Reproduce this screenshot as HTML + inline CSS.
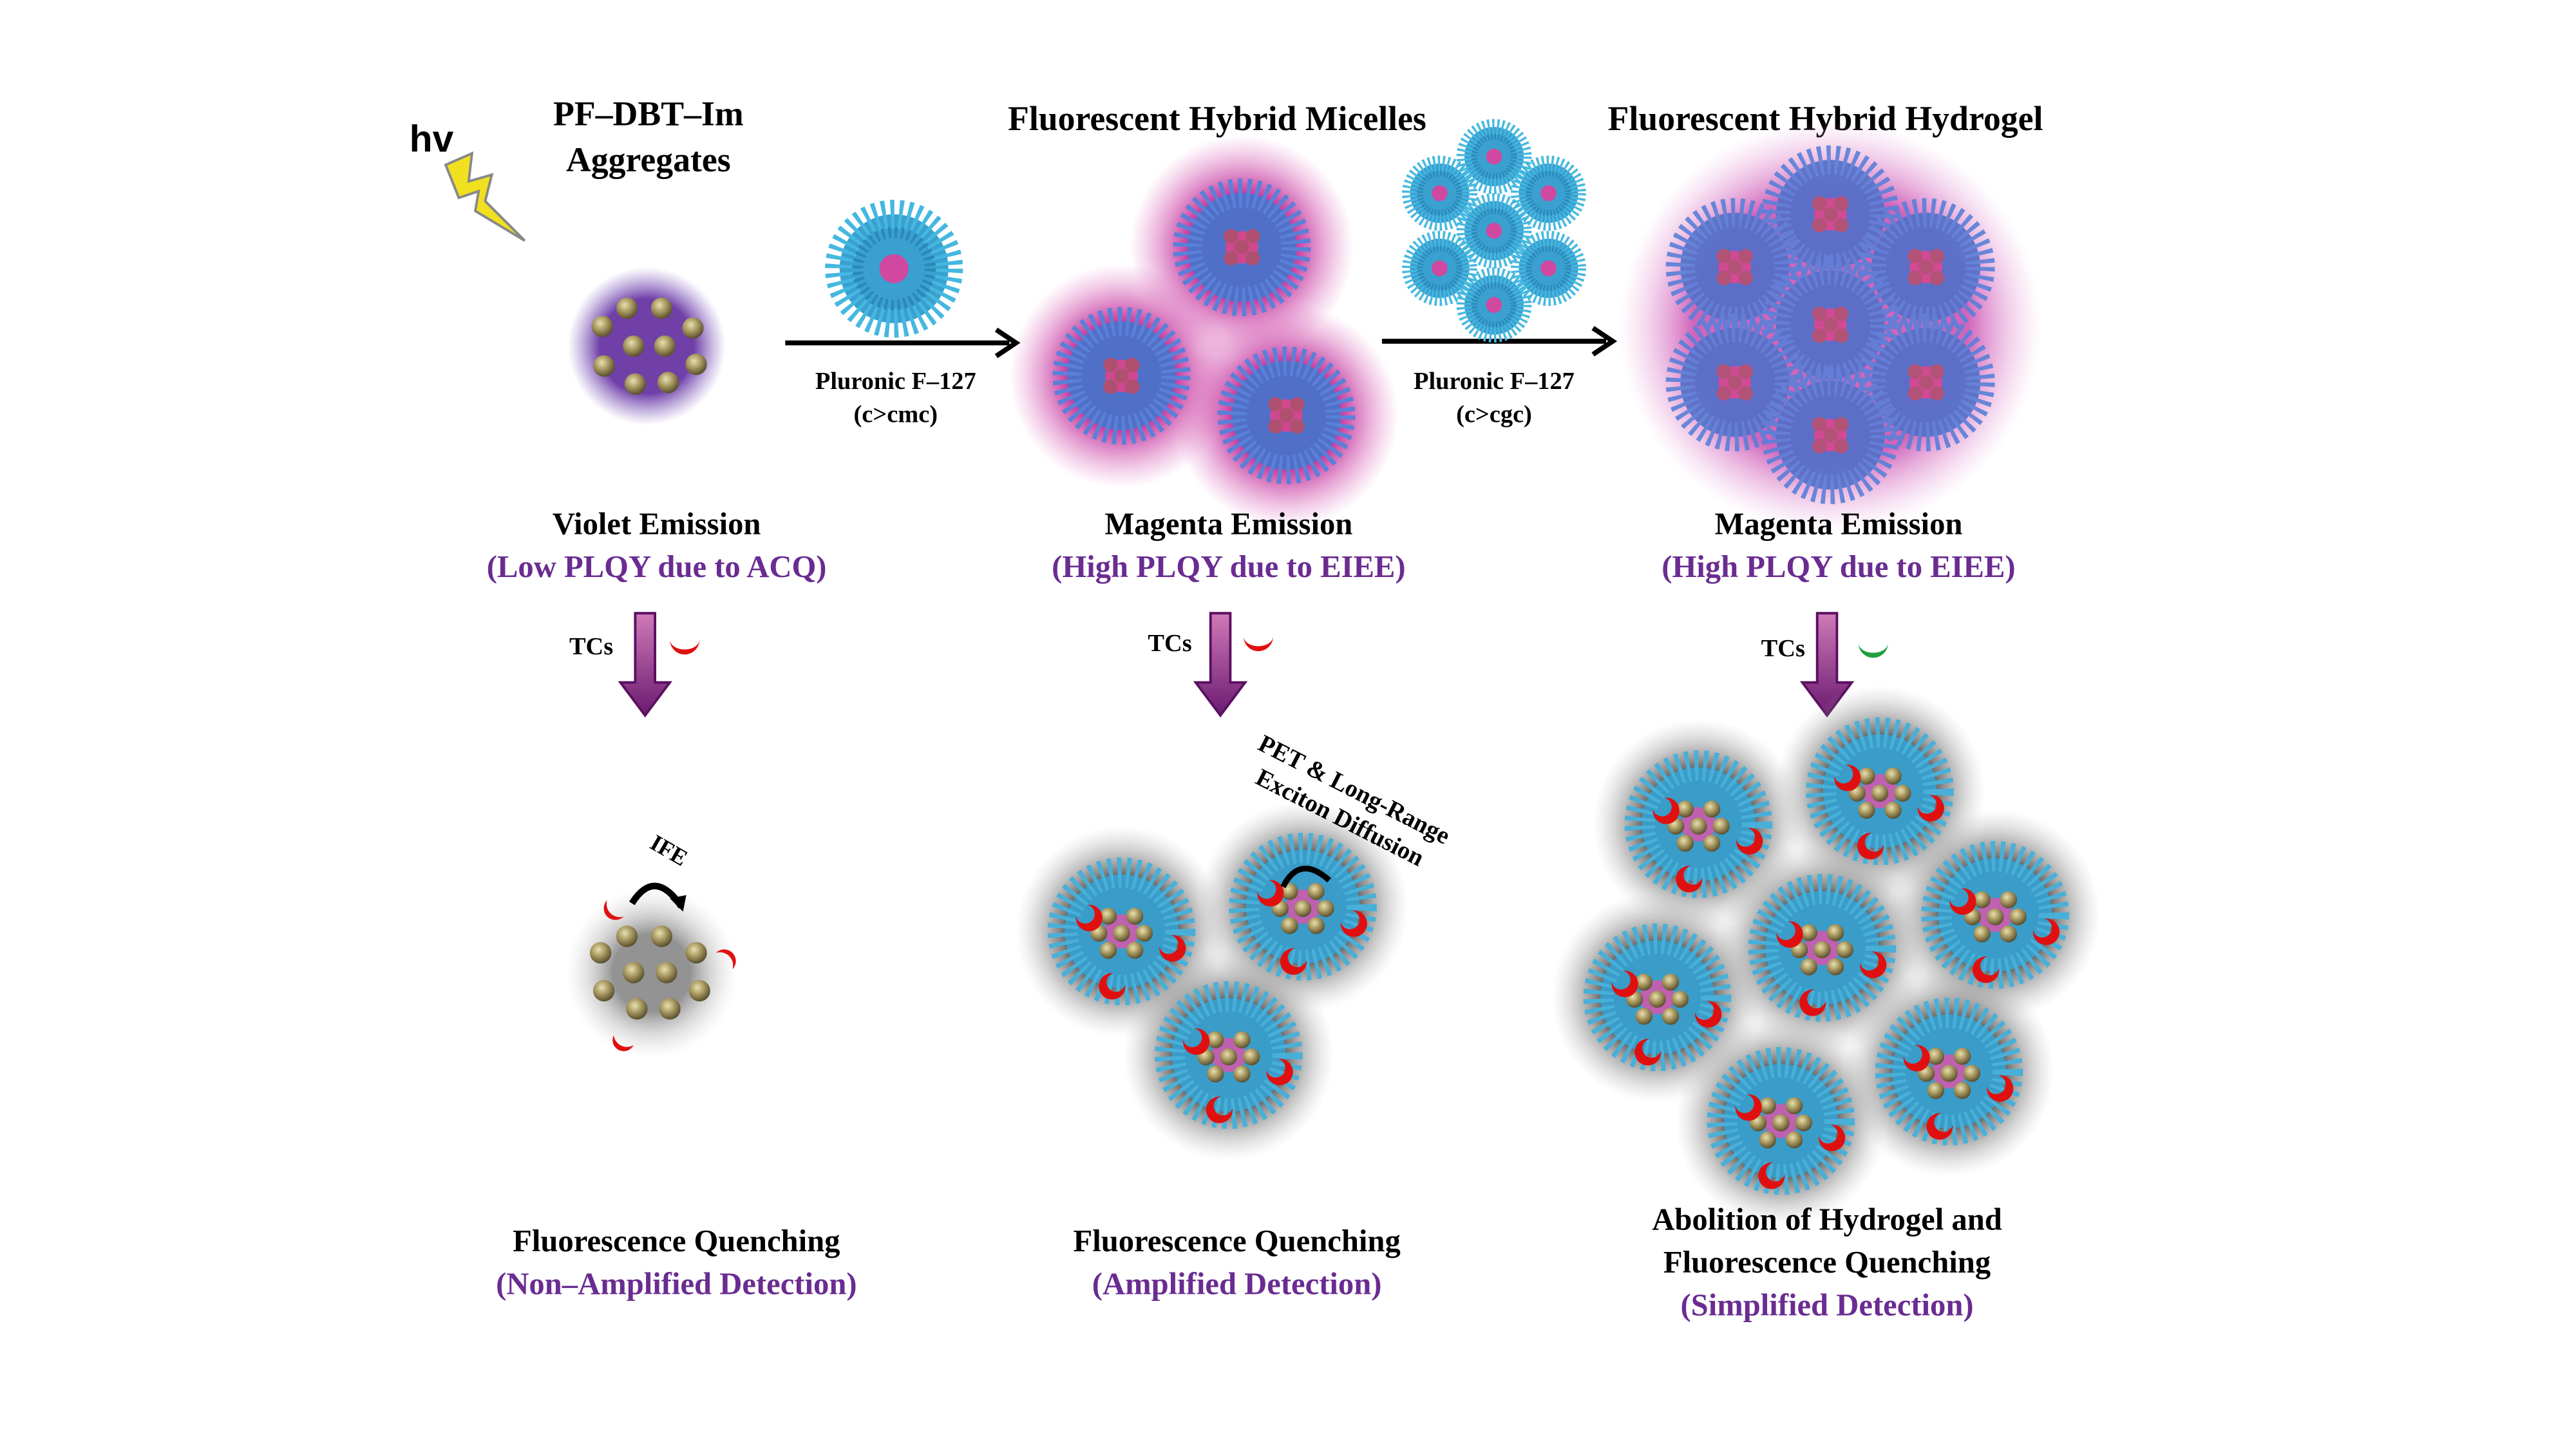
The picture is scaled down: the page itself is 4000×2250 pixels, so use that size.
<!DOCTYPE html>
<html><head><meta charset="utf-8"><style>
html,body{margin:0;padding:0;background:#fff;}
svg{display:block}
text{font-family:"Liberation Serif",serif;font-weight:bold;}
</style></head><body>
<svg width="4000" height="2250" viewBox="0 0 1562 879" xmlns="http://www.w3.org/2000/svg">
<defs>
<radialGradient id="gold" cx="40%" cy="35%" r="65%"><stop offset="0" stop-color="#e8e0b0"/><stop offset="0.5" stop-color="#a89860"/><stop offset="1" stop-color="#5a5030"/></radialGradient>
<radialGradient id="pinkGlow"><stop offset="0.5" stop-color="#c0309a" stop-opacity="0.9"/><stop offset="1" stop-color="#e070c0" stop-opacity="0"/></radialGradient>
<radialGradient id="greyGlow"><stop offset="0.45" stop-color="#303030" stop-opacity="0.95"/><stop offset="0.7" stop-color="#707070" stop-opacity="0.5"/><stop offset="1" stop-color="#b0b0b0" stop-opacity="0"/></radialGradient>
<radialGradient id="violetGlow"><stop offset="0.6" stop-color="#7040a8"/><stop offset="1" stop-color="#9070c8" stop-opacity="0"/></radialGradient>
<radialGradient id="bigPink" cx="50%" cy="50%" r="50%"><stop offset="0.65" stop-color="#c84ab0" stop-opacity="0.85"/><stop offset="1" stop-color="#e8a0d8" stop-opacity="0"/></radialGradient>
<linearGradient id="arrG" x1="0" y1="0" x2="0" y2="1"><stop offset="0" stop-color="#d07ab8"/><stop offset="1" stop-color="#6a1a70"/></linearGradient>
<g id="mic">
  <circle r="30" fill="#3aa0d0"/>
  <circle r="30" fill="none" stroke="#45b8e0" stroke-width="16" stroke-dasharray="2 2.5"/>
  <circle r="20" fill="none" stroke="#2a88b8" stroke-width="6" stroke-dasharray="1.5 2"/>
  <circle r="8" fill="#d048a0"/>
</g>
<g id="micP">
  <circle r="30" fill="#5070c8"/>
  <circle r="30" fill="none" stroke="#5a80d8" stroke-width="16" stroke-dasharray="2 2.5"/>
  <circle r="9" fill="#d04890"/>
  <circle cx="-6" cy="-6" r="4" fill="#b05070"/><circle cx="6" cy="-6" r="4" fill="#b05070"/><circle cx="0" cy="0" r="4" fill="#b05070"/><circle cx="-6" cy="6" r="4" fill="#b05070"/><circle cx="6" cy="6" r="4" fill="#b05070"/>
</g>
<g id="micG">
  <circle r="30" fill="#3a9cc8"/>
  <circle r="31" fill="none" stroke="#48b0d8" stroke-width="16" stroke-dasharray="2 2.5"/>
  <circle r="9" fill="#c060b0"/>
  <circle cx="-7" cy="-8" r="4.5" fill="url(#gold)"/><circle cx="7" cy="-8" r="4.5" fill="url(#gold)"/><circle cx="-12" cy="1" r="4.5" fill="url(#gold)"/><circle cx="0" cy="1" r="4.5" fill="url(#gold)"/><circle cx="12" cy="1" r="4.5" fill="url(#gold)"/><circle cx="-7" cy="10" r="4.5" fill="url(#gold)"/><circle cx="7" cy="10" r="4.5" fill="url(#gold)"/>
  <path d="M-24,-8 a7,7 0 1,0 6,-6 a5,5 0 1,1 -6,6z" fill="#e01010"/>
  <path d="M20,8 a7,7 0 1,0 6,-6 a5,5 0 1,1 -6,6z" fill="#e01010"/>
  <path d="M-4,22 a7,7 0 1,0 6,6 a5,5 0 1,1 -6,-6z" fill="#e01010"/>
</g>
<g id="ball"><circle r="6.5" fill="url(#gold)"/></g>
<g id="darr"><path d="M-6,0 h12 v42 h9 l-15,20 l-15,-20 h9z" fill="url(#arrG)" stroke="#5a1060" stroke-width="1.5"/></g>
</defs>

<text x="248" y="92" font-size="23" style="font-family:'Liberation Sans',sans-serif">hv</text>
<path d="M270,100 L286,93 L284,110 L298,106 L294,122 L318,146 L288,128 L290,116 L278,120 Z" fill="#f0e020" stroke="#888" stroke-width="1.5"/>
<text x="393" y="76" font-size="21" text-anchor="middle">PF–DBT–Im</text>
<text x="393" y="104" font-size="21" text-anchor="middle">Aggregates</text>
<text x="738" y="79" font-size="21" text-anchor="middle">Fluorescent  Hybrid Micelles</text>
<text x="1107" y="79" font-size="21" text-anchor="middle">Fluorescent  Hybrid Hydrogel</text>

<circle cx="392" cy="210" r="48" fill="url(#violetGlow)"/>
<use href="#ball" x="380" y="187"/><use href="#ball" x="401" y="187"/><use href="#ball" x="365" y="198"/><use href="#ball" x="420" y="199"/><use href="#ball" x="384" y="210"/><use href="#ball" x="403" y="210"/><use href="#ball" x="366" y="222"/><use href="#ball" x="422" y="221"/><use href="#ball" x="385" y="233"/><use href="#ball" x="405" y="232"/>

<line x1="476" y1="208" x2="612" y2="208" stroke="#000" stroke-width="3"/><path d="M604,200 L616,208 L604,216" fill="none" stroke="#000" stroke-width="3"/>
<use href="#mic" transform="translate(542,163) scale(1.1)"/>
<text x="543" y="236" font-size="15" text-anchor="middle">Pluronic F–127</text>
<text x="543" y="256" font-size="15" text-anchor="middle">(c&gt;cmc)</text>

<circle cx="753" cy="150" r="68" fill="url(#pinkGlow)"/><circle cx="680" cy="228" r="68" fill="url(#pinkGlow)"/><circle cx="780" cy="252" r="68" fill="url(#pinkGlow)"/>
<use href="#micP" transform="translate(753,150) scale(1.1)"/><use href="#micP" transform="translate(680,228) scale(1.1)"/><use href="#micP" transform="translate(780,252) scale(1.1)"/>

<line x1="838" y1="207" x2="974" y2="207" stroke="#000" stroke-width="3"/><path d="M966,199 L978,207 L966,215" fill="none" stroke="#000" stroke-width="3"/>
<g transform="translate(906,140) scale(0.6)">
<use href="#mic" x="0" y="-75"/><use href="#mic" x="-55" y="-38"/><use href="#mic" x="55" y="-38"/><use href="#mic" x="0" y="0"/><use href="#mic" x="-55" y="38"/><use href="#mic" x="55" y="38"/><use href="#mic" x="0" y="75"/>
</g>
<text x="906" y="236" font-size="15" text-anchor="middle">Pluronic F–127</text>
<text x="906" y="256" font-size="15" text-anchor="middle">(c&gt;cgc)</text>

<ellipse cx="1110" cy="198" rx="128" ry="125" fill="url(#bigPink)"/>
<g opacity="0.9">
<use href="#micP" transform="translate(1110,130) scale(1.1)"/><use href="#micP" transform="translate(1052,162) scale(1.1)"/><use href="#micP" transform="translate(1168,162) scale(1.1)"/><use href="#micP" transform="translate(1110,197) scale(1.1)"/><use href="#micP" transform="translate(1052,232) scale(1.1)"/><use href="#micP" transform="translate(1168,232) scale(1.1)"/><use href="#micP" transform="translate(1110,264) scale(1.1)"/>
</g>

<text x="398" y="324" font-size="19" text-anchor="middle">Violet Emission</text>
<text x="398" y="350" font-size="19" text-anchor="middle" fill="#6a2c91">(Low PLQY due to ACQ)</text>
<text x="745" y="324" font-size="19" text-anchor="middle">Magenta Emission</text>
<text x="745" y="350" font-size="19" text-anchor="middle" fill="#6a2c91">(High PLQY due to EIEE)</text>
<text x="1115" y="324" font-size="19" text-anchor="middle">Magenta Emission</text>
<text x="1115" y="350" font-size="19" text-anchor="middle" fill="#6a2c91">(High PLQY due to EIEE)</text>

<use href="#darr" x="391" y="372"/><use href="#darr" x="740" y="372"/><use href="#darr" x="1108" y="372"/>
<text x="345" y="397" font-size="15">TCs</text>
<text x="696" y="395" font-size="15">TCs</text>
<text x="1068" y="398" font-size="15">TCs</text>
<path d="M406,388 a9,9 0 0,0 18,0 a9,6 0 0,1 -18,0z" fill="#e01010"/>
<path d="M754,386 a9,9 0 0,0 18,0 a9,6 0 0,1 -18,0z" fill="#e01010"/>
<path d="M1127,390 a9,9 0 0,0 18,0 a9,6 0 0,1 -18,0z" fill="#20a040"/>

<circle cx="395" cy="590" r="52" fill="url(#greyGlow)" opacity="0.55"/>
<use href="#ball" x="380" y="568"/><use href="#ball" x="401" y="568"/><use href="#ball" x="364" y="578"/><use href="#ball" x="422" y="578"/><use href="#ball" x="384" y="590"/><use href="#ball" x="404" y="590"/><use href="#ball" x="366" y="601"/><use href="#ball" x="424" y="601"/><use href="#ball" x="386" y="612"/><use href="#ball" x="406" y="612"/>
<path d="M383,548 q14,-22 30,2" fill="none" stroke="#000" stroke-width="4"/><path d="M406,545 l8,8 l2,-10z" fill="#000"/>
<text x="392" y="518" font-size="14" transform="rotate(30 400 518)">IFE</text>
<path d="M368,546 a8,8 0 0,0 10,10 a6,6 0 0,1 -10,-10z" fill="#e01010"/>
<path d="M434,578 a8,8 0 0,1 10,10 a6,6 0 0,0 -10,-10z" fill="#e01010"/>
<path d="M372,628 a8,8 0 0,0 12,6 a6,6 0 0,1 -12,-6z" fill="#e01010"/>

<!-- grey glows -->
<g>
<circle cx="680" cy="565" r="64" fill="url(#greyGlow)"/>
<circle cx="790" cy="550" r="64" fill="url(#greyGlow)"/>
<circle cx="745" cy="640" r="64" fill="url(#greyGlow)"/>
<circle cx="1030" cy="500" r="64" fill="url(#greyGlow)"/>
<circle cx="1140" cy="480" r="64" fill="url(#greyGlow)"/>
<circle cx="1210" cy="555" r="64" fill="url(#greyGlow)"/>
<circle cx="1105" cy="575" r="64" fill="url(#greyGlow)"/>
<circle cx="1005" cy="605" r="64" fill="url(#greyGlow)"/>
<circle cx="1182" cy="650" r="64" fill="url(#greyGlow)"/>
<circle cx="1080" cy="680" r="64" fill="url(#greyGlow)"/>
</g>
<use href="#micG" transform="translate(680,565) scale(1.15)"/>
<use href="#micG" transform="translate(790,550) scale(1.15)"/>
<use href="#micG" transform="translate(745,640) scale(1.15)"/>
<path d="M778,538 q10,-20 28,-4" fill="none" stroke="#000" stroke-width="3.5"/>
<g transform="rotate(27 810 490)"><text x="815" y="480" font-size="15" text-anchor="middle">PET &amp; Long-Range</text><text x="815" y="499" font-size="15" text-anchor="middle">Exciton Diffusion</text></g>

<use href="#micG" transform="translate(1030,500) scale(1.15)"/>
<use href="#micG" transform="translate(1140,480) scale(1.15)"/>
<use href="#micG" transform="translate(1210,555) scale(1.15)"/>
<use href="#micG" transform="translate(1105,575) scale(1.15)"/>
<use href="#micG" transform="translate(1005,605) scale(1.15)"/>
<use href="#micG" transform="translate(1182,650) scale(1.15)"/>
<use href="#micG" transform="translate(1080,680) scale(1.15)"/>

<text x="410" y="759" font-size="19" text-anchor="middle">Fluorescence Quenching</text>
<text x="410" y="785" font-size="19" text-anchor="middle" fill="#6a2c91">(Non–Amplified Detection)</text>
<text x="750" y="759" font-size="19" text-anchor="middle">Fluorescence Quenching</text>
<text x="750" y="785" font-size="19" text-anchor="middle" fill="#6a2c91">(Amplified Detection)</text>
<text x="1108" y="746" font-size="19" text-anchor="middle">Abolition of Hydrogel and</text>
<text x="1108" y="772" font-size="19" text-anchor="middle">Fluorescence Quenching</text>
<text x="1108" y="798" font-size="19" text-anchor="middle" fill="#6a2c91">(Simplified Detection)</text>
</svg>
</body></html>
